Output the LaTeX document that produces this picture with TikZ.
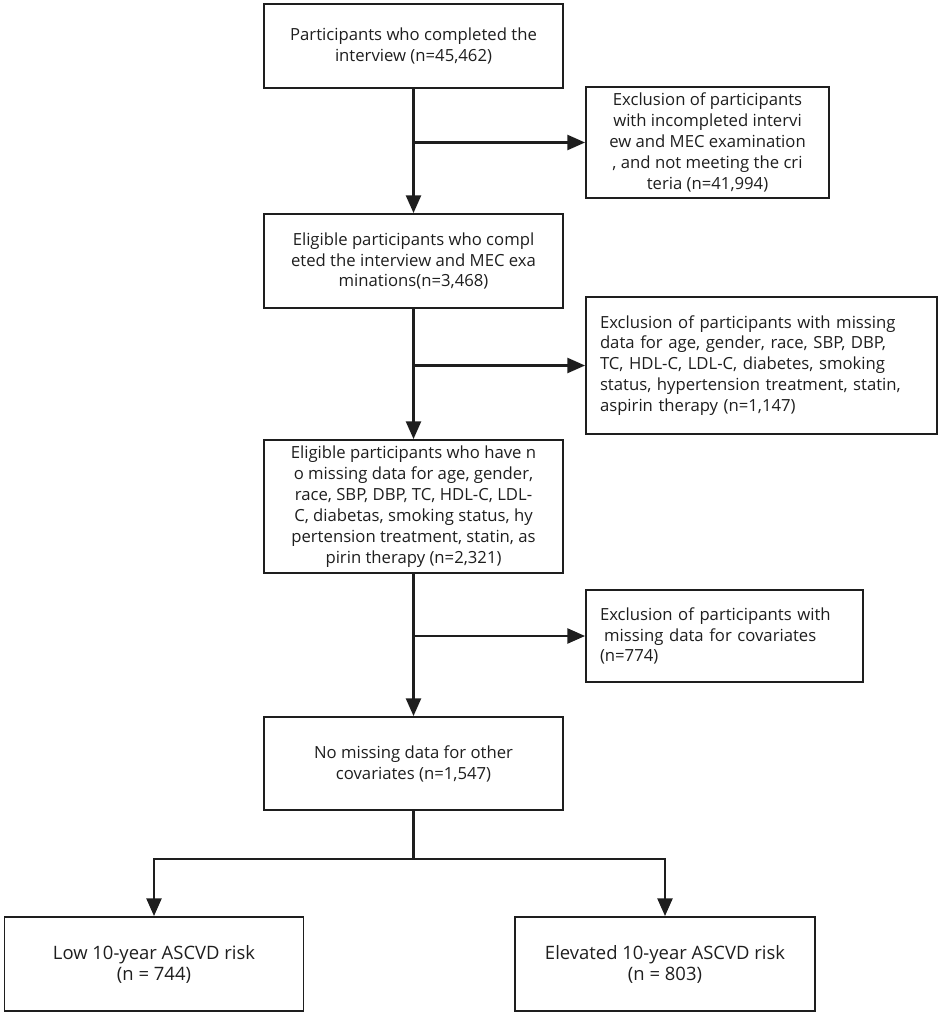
\documentclass[tikz,border=0pt]{standalone}
\usepackage{fontspec}
\setmainfont{Open Sans}
\usetikzlibrary{arrows.meta, positioning}
\definecolor{inkcolor}{RGB}{30,30,30}

\begin{document}
\begin{tikzpicture}[
    font=\fontsize{9.5}{11.9}\selectfont,
    box/.style={draw=inkcolor, text=inkcolor, line width=1.1pt, align=center, inner sep=0pt, minimum width=5.98cm},
    sidebox/.style={draw=inkcolor, text=inkcolor, line width=1.1pt, align=left, inner xsep=0.28cm, inner ysep=0pt},
    group/.style={box, font=\fontsize{10.5}{11.9}\selectfont},
    arrow/.style={-{Triangle[length=10pt, width=8.5pt]}, line width=1.3pt, draw=inkcolor}
]
    \useasboundingbox (0,0) rectangle (18.86,-20.32);

    \node[box, minimum height=1.68cm] (start) at (8.27,-0.92) {Participants who completed the\\interview (n=45,462)};
    \node[box, minimum width=4.86cm, minimum height=2.22cm] (excl1) at (14.15,-2.85) {Exclusion of participants\\with incompleted intervi\\ew and MEC examination\\, and not meeting the cri\\teria (n=41,994)};
    \node[box, minimum height=1.88cm] (elig1) at (8.27,-5.22) {Eligible participants who compl\\eted the interview and MEC exa\\minations(n=3,468)};
    \node[sidebox, text width=6.46cm, minimum height=2.74cm] (excl2) at (15.23,-7.31) {Exclusion of participants with missing\\data for age, gender, race, SBP, DBP,\\TC, HDL-C, LDL-C, diabetes, smoking\\status, hypertension treatment, statin,\\aspirin therapy (n=1,147)};
    \node[box, minimum height=2.66cm] (elig2) at (8.27,-10.13) {Eligible participants who have n\\o missing data for age, gender,\\race, SBP, DBP, TC, HDL-C, LDL-\\C, diabetas, smoking status, hy\\pertension treatment, statin, as\\pirin therapy (n=2,321)};
    \node[sidebox, text width=4.98cm, minimum height=1.84cm] (excl3) at (14.49,-12.72) {Exclusion of participants with\\\hspace*{0.25em}missing data for covariates\\(n=774)};
    \node[box, minimum height=1.86cm] (final) at (8.27,-15.27) {No missing data for other\\covariates (n=1,547)};
    \node[group, minimum height=1.88cm] (low) at (3.08,-19.28) {Low 10-year ASCVD risk\\(n = 744)};
    \node[group, minimum width=6.0cm, minimum height=1.88cm] (high) at (13.30,-19.28) {Elevated 10-year ASCVD risk\\(n = 803)};

    \draw[arrow] (start) -- (elig1);
    \draw[arrow] (start |- excl1) -- (excl1);
    \draw[arrow] (elig1) -- (elig2);
    \draw[arrow] (elig1 |- excl2) -- (excl2);
    \draw[arrow] (elig2) -- (final);
    \draw[arrow] (elig2 |- excl3) -- (excl3);
    \draw[arrow, -] (final.south) -- ++(0,-0.96) coordinate (split);
    \draw[arrow] (split) -| (low);
    \draw[arrow] (split) -| (high);
\end{tikzpicture}
\end{document}
